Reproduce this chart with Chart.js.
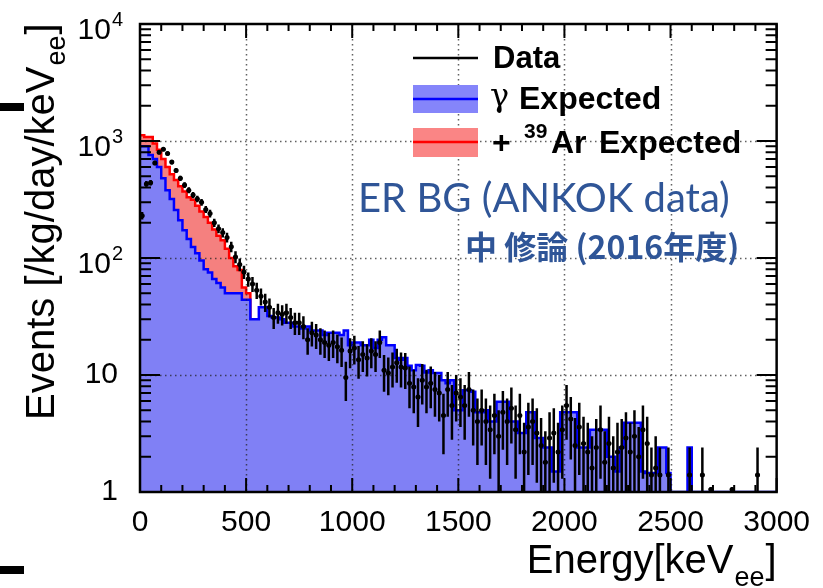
<!DOCTYPE html>
<html lang="ja">

<head>
  <meta charset="UTF-8" />
  <title>ER BG (ANKOK data)</title>
  <script src="https://cdn.jsdelivr.net/npm/chart.js"></script>
  <style>
    * {
      margin: 0;
      padding: 0;
      box-sizing: border-box;
    }

    body {
      background: #fff;
    }

    #wrap {
      width: 823px;
      height: 588px;
    }
  </style>
</head>

<body>
  <div id="wrap">
    <canvas id="erChart" width="823" height="588"></canvas>
  </div>

  <script>
    // bins are 20 keV wide, starting at 0 keV
    const binWidth = 20;
    const energyTicks = [0, 500, 1000, 1500, 2000, 2500, 3000];
    const eventTicks = [1, 10, 100, 1000, 10000];

    // gamma expected (blue histogram), one value per bin, 0 = empty bin
    const gammaExpected = [
      870, 900, 900, 760, 700, 600, 480, 380, 320, 257,
      210, 173, 145, 124, 110, 95, 80, 75, 66, 61,
      56, 50, 50, 50, 50, 44, 44, 30, 30, 38,
      38, 32, 31, 31, 30, 28, 28, 26, 26, 25,
      26, 24, 24, 24, 22, 23, 23, 23, 22, 24,
      18, 19, 19, 18, 18, 20, 17, 20, 21, 18,
      18, 14, 13.5, 14, 12, 11, 12.2, 12, 10.5, 11,
      10.4, 10.4, 9, 8.5, 9, 5, 5, 7.4, 7.4, 7.2,
      4.8, 4.8, 5, 4, 4, 5.9, 5.9, 5.9, 4, 4,
      3.2, 3.2, 4.8, 4.8, 2.9, 2.9, 2.4, 2.4, 1.5, 1.5,
      4.8, 4.8, 4.8, 4.8, 2.4, 2.4, 2.4, 3.4, 3.4, 3.4,
      3.4, 2.0, 2.0, 1.5, 2.4, 3.9, 3.9, 3.9, 3.9, 1.5,
      1.45, 1.45, 1.45, 2.4, 2.4, 1.45, 0, 0, 0, 0,
      2.4, 0, 0, 0, 0, 0, 0, 0, 0, 0,
      0, 0, 0, 0, 0, 0, 0, 0, 0, 0
    ];

    // gamma + 39Ar expected (red histogram), only where it differs from gamma
    const ar39Total = [
      1120, 1120, 1080, 1080, 950, 840, 700, 600, 520, 465,
      410, 370, 330, 314, 280, 250, 224, 200, 175, 155,
      142, 120, 100, 85, 79, 56, 50
    ];

    // measured data per bin and its error, 0 = no entry
    const dataCounts = [
      230, 430, 440, 650, 800, 850, 780, 660, 560, 480,
      420, 380, 345, 320, 300, 260, 240, 200, 178, 165,
      150, 125, 102, 88, 76, 66, 60, 53, 47, 42,
      38, 31, 34, 33, 34, 31, 28, 28, 26, 20,
      23, 22, 20, 19, 18, 19, 17.4, 16.3, 9.5, 16,
      17, 13.5, 15, 14, 16, 15, 19, 11, 10.4, 11.7,
      12.7, 11.7, 11.5, 8.5, 7.9, 6.5, 9, 7.9, 8.5, 7.5,
      7.0, 4.5, 7.5, 5.5, 7, 6.5, 5.5, 7.5, 5, 4,
      5, 4, 3.4, 4.5, 3.0, 4.8, 4, 5.2, 3.4, 4.5,
      2.2, 3.6, 4, 3.2, 2.5, 1.8, 2.9, 3.2, 2.2, 3.4,
      5.5, 4.2, 2.5, 3.6, 2.6, 2.2, 1.6, 2.4, 3.4, 1.8,
      2.6, 1.6, 2.2, 2.4, 2.9, 2.2, 3.0, 2.0, 3.4, 2.6,
      1.4, 1.6, 1.4, 0, 1.4, 0, 0, 0, 0, 1.4,
      0, 0, 1.4, 0, 1.05, 0, 0, 0, 0, 1.05,
      0, 0, 0, 0, 0, 1.4, 0, 0, 0, 0
    ];
    const dataErrors = [
      17, 24, 24, 29, 32, 33, 32, 29, 27, 25,
      23, 22, 21, 20, 20, 18, 18, 16, 15, 15,
      14, 13, 12, 11, 10, 9.3, 8.8, 8.3, 7.8, 7.4,
      7.0, 6.3, 6.6, 6.5, 6.6, 6.3, 6.0, 6.0, 5.8, 5.1,
      5.5, 5.3, 5.1, 5.0, 4.8, 5.0, 4.8, 4.6, 3.5, 4.6,
      4.7, 4.2, 4.4, 4.3, 4.6, 4.4, 5.0, 3.8, 3.7, 3.9,
      4.1, 3.9, 3.9, 3.3, 3.2, 2.9, 3.4, 3.2, 3.3, 3.1,
      3.0, 2.4, 3.1, 2.7, 3.0, 2.9, 2.7, 3.1, 2.5, 2.3,
      2.5, 2.3, 2.1, 2.4, 2.0, 2.5, 2.3, 2.6, 2.1, 2.4,
      1.7, 2.2, 2.3, 2.0, 1.8, 1.5, 1.9, 2.0, 1.7, 2.1,
      2.7, 2.3, 1.8, 2.2, 1.8, 1.7, 1.4, 1.8, 2.1, 1.5,
      1.8, 1.4, 1.7, 1.8, 1.9, 1.7, 2.0, 1.6, 2.1, 1.8,
      1.0, 1.4, 1.0, 0, 1.0, 0, 0, 0, 0, 1.0,
      0, 0, 1.0, 0, 0.05, 0, 0, 0, 0, 0.05,
      0, 0, 0, 0, 0, 1.0, 0, 0, 0, 0
    ];

    const FONT = "'Liberation Sans', Arial, Helvetica, sans-serif";

    // histogram outline: one point at each lower bin edge, then the closing point
    function histPoints(vals, tail) {
      const pts = vals.map((v, i) => ({ x: i * binWidth, y: v > 0 ? v : eventTicks[0] }));
      pts.push(tail);
      return pts;
    }

    const gammaPts = histPoints(gammaExpected, { x: gammaExpected.length * binWidth, y: eventTicks[0] });
    const arPts = histPoints(ar39Total, { x: ar39Total.length * binWidth, y: gammaExpected[ar39Total.length] });
    const dataPts = dataCounts
      .map((v, i) => (v > 0 ? { x: i * binWidth + binWidth / 2, y: v, err: dataErrors[i] } : null))
      .filter(Boolean);

    const rootStyle = {
      id: 'rootStyle',
      // dotted grid goes over the filled histograms but under the data
      beforeDatasetDraw(chart, args) {
        if (args.index !== 2) return;
        const { ctx, chartArea: a, scales: { x, y } } = chart;
        ctx.save();
        ctx.strokeStyle = 'rgba(30,30,30,0.7)';
        ctx.lineWidth = 1.5;
        ctx.setLineDash([1.5, 3.5]);
        ctx.beginPath();
        energyTicks.slice(1, -1).forEach(v => {
          const px = Math.round(x.getPixelForValue(v)) + 0.5;
          ctx.moveTo(px, a.top);
          ctx.lineTo(px, a.bottom);
        });
        eventTicks.slice(1, -1).forEach(v => {
          const py = Math.round(y.getPixelForValue(v)) + 0.5;
          ctx.moveTo(a.left, py);
          ctx.lineTo(a.right, py);
        });
        ctx.stroke();
        ctx.restore();
      },
      afterDatasetsDraw(chart) {
        const { ctx, chartArea: a, scales: { x, y } } = chart;

        // error bars of the data
        ctx.save();
        ctx.beginPath();
        ctx.rect(a.left, a.top, a.right - a.left, a.bottom - a.top);
        ctx.clip();
        ctx.strokeStyle = '#000';
        ctx.lineWidth = 2.5;
        ctx.beginPath();
        dataPts.forEach(p => {
          const px = x.getPixelForValue(p.x);
          const lo = p.y - p.err > 0 ? y.getPixelForValue(p.y - p.err) : a.bottom + 5;
          const hi = y.getPixelForValue(p.y + p.err);
          const py = y.getPixelForValue(p.y);
          ctx.moveTo(px, lo);
          ctx.lineTo(px, hi);
          ctx.moveTo(x.getPixelForValue(p.x - binWidth / 2), py);
          ctx.lineTo(x.getPixelForValue(p.x + binWidth / 2), py);
        });
        ctx.stroke();
        ctx.restore();

        // frame + inward ticks on all four sides
        ctx.save();
        ctx.strokeStyle = '#000';
        ctx.lineWidth = 2;
        ctx.beginPath();
        for (let e = 0; e <= 3000; e += 100) {
          const px = x.getPixelForValue(e);
          const len = e % 500 === 0 ? 14 : 7;
          ctx.moveTo(px, a.bottom);
          ctx.lineTo(px, a.bottom - len);
          ctx.moveTo(px, a.top);
          ctx.lineTo(px, a.top + len);
        }
        for (let d = 1; d < 10000; d *= 10) {
          for (let k = 1; k <= 9; k++) {
            const py = y.getPixelForValue(k * d);
            const len = k === 1 ? 20 : 11;
            ctx.moveTo(a.left, py);
            ctx.lineTo(a.left + len, py);
            ctx.moveTo(a.right, py);
            ctx.lineTo(a.right - len, py);
          }
        }
        ctx.stroke();
        ctx.lineWidth = 2.5;
        ctx.strokeRect(a.left, a.top, a.right - a.left, a.bottom - a.top);
        ctx.restore();
      },
      afterDraw(chart) {
        const { ctx, chartArea: a, scales: { y } } = chart;
        ctx.save();
        ctx.fillStyle = '#000';

        // y tick labels, ROOT style powers of ten
        eventTicks.forEach(v => {
          const py = y.getPixelForValue(v);
          const p = Math.round(Math.log10(v));
          ctx.textBaseline = 'middle';
          if (p < 2) {
            ctx.font = '30px ' + FONT;
            ctx.textAlign = 'right';
            ctx.fillText(String(v), a.left - 22, py);
          } else {
            ctx.font = '20px ' + FONT;
            ctx.textAlign = 'right';
            ctx.fillText(String(p), a.left - 17, py - 4);
            const ew = ctx.measureText(String(p)).width;
            ctx.font = '30px ' + FONT;
            ctx.fillText('10', a.left - 18 - ew, py + 7);
          }
        });

        // axis titles with subscript
        ctx.textAlign = 'left';
        ctx.textBaseline = 'alphabetic';
        ctx.font = '40px ' + FONT;
        const t1 = 'Energy[keV';
        const w1 = ctx.measureText(t1).width;
        ctx.font = '27px ' + FONT;
        const ws = ctx.measureText('ee').width;
        ctx.font = '40px ' + FONT;
        const w2 = ctx.measureText(']').width;
        let sx = a.right - (w1 + ws + w2 + 2);
        ctx.fillText(t1, sx, 573);
        ctx.font = '27px ' + FONT;
        ctx.fillText('ee', sx + w1 + 1, 586);
        ctx.font = '40px ' + FONT;
        ctx.fillText(']', sx + w1 + ws + 2, 573);

        ctx.save();
        ctx.translate(54, 420);
        ctx.rotate(-Math.PI / 2);
        const t2 = 'Events [/kg/day/keV';
        ctx.font = '40px ' + FONT;
        const v1 = ctx.measureText(t2).width;
        ctx.fillText(t2, 0, 0);
        ctx.font = '27px ' + FONT;
        ctx.fillText('ee', v1 + 1, 11);
        const vs = ctx.measureText('ee').width;
        ctx.font = '40px ' + FONT;
        ctx.fillText(']', v1 + vs + 2, 0);
        ctx.restore();

        // legend
        ctx.lineWidth = 2.5;
        ctx.strokeStyle = '#000';
        ctx.beginPath();
        ctx.moveTo(413, 58);
        ctx.lineTo(478, 58);
        ctx.stroke();
        ctx.fillStyle = '#8585fa';
        ctx.fillRect(413, 85, 65, 28);
        ctx.strokeStyle = '#0000ff';
        ctx.beginPath();
        ctx.moveTo(413, 99);
        ctx.lineTo(478, 99);
        ctx.stroke();
        ctx.fillStyle = '#fa8585';
        ctx.fillRect(413, 128, 65, 29);
        ctx.strokeStyle = '#ff0000';
        ctx.beginPath();
        ctx.moveTo(413, 142);
        ctx.lineTo(478, 142);
        ctx.stroke();

        ctx.fillStyle = '#000';
        ctx.textBaseline = 'alphabetic';
        ctx.font = 'bold 31px ' + FONT;
        ctx.fillText('Data', 493, 68);
        ctx.font = "32px 'DejaVu Serif', serif";
        ctx.fillText('γ', 490, 106);
        ctx.font = 'bold 32px ' + FONT;
        ctx.fillText('Expected', 519, 109);
        ctx.fillText('+', 492, 153);
        ctx.font = 'bold 21px ' + FONT;
        ctx.fillText('39', 524, 138);
        ctx.font = 'bold 32px ' + FONT;
        ctx.fillText('Ar', 551, 153);
        ctx.fillText('Expected', 599, 153);

        // annotation
        ctx.fillStyle = '#2f5597';
        ctx.font = "40px Lato, 'Open Sans', sans-serif";
        ctx.fillText('ER BG (ANKOK data)', 358, 212, 386);
        ctx.font = "bold 32px 'Noto Sans CJK JP', 'Noto Sans', sans-serif";
        ctx.fillText('中 修論 (2016年度)', 465, 259, 297);

        // slide marks on the left edge
        ctx.fillStyle = '#000';
        ctx.fillRect(0, 103, 24, 8);
        ctx.fillRect(0, 566, 24, 8);
        ctx.restore();
      }
    };

    const ctx = document.getElementById('erChart').getContext('2d');

    const erChart = new Chart(ctx, {
      type: 'line',
      data: {
        datasets: [{
          label: 'γ Expected',
          data: gammaPts,
          stepped: 'after',
          borderColor: '#0000ff',
          borderWidth: 2.5,
          backgroundColor: '#8080f5',
          fill: 'start',
          pointRadius: 0,
          order: 1
        }, {
          label: '+ 39Ar Expected',
          data: arPts,
          stepped: 'after',
          borderColor: '#ff0000',
          borderWidth: 2.5,
          backgroundColor: '#f5807f',
          fill: 'start',
          pointRadius: 0,
          order: 2
        }, {
          label: 'Data',
          type: 'scatter',
          data: dataPts,
          showLine: false,
          pointRadius: 2.5,
          pointBackgroundColor: '#000',
          pointBorderWidth: 0,
          order: 0
        }]
      },
      options: {
        responsive: false,
        animation: false,
        devicePixelRatio: 1,
        layout: {
          padding: { top: 24, right: 43, left: 0, bottom: 0 }
        },
        plugins: {
          legend: { display: false },
          tooltip: { enabled: false }
        },
        scales: {
          x: {
            type: 'linear',
            min: 0,
            max: 3000,
            afterBuildTicks: s => { s.ticks = energyTicks.map(v => ({ value: v })); },
            afterFit: s => { s.height = 96; },
            ticks: {
              color: '#000',
              font: { family: FONT, size: 30 },
              padding: 13,
              maxRotation: 0,
              autoSkip: false,
              callback: v => String(v)
            },
            grid: { display: false, drawTicks: false },
            border: { display: false }
          },
          y: {
            type: 'logarithmic',
            min: 1,
            max: 10000,
            afterBuildTicks: s => { s.ticks = eventTicks.map(v => ({ value: v })); },
            afterFit: s => { s.width = 140; },
            ticks: { display: false },
            grid: { display: false, drawTicks: false },
            border: { display: false }
          }
        }
      },
      plugins: [rootStyle]
    });
  </script>

</body>

</html>
